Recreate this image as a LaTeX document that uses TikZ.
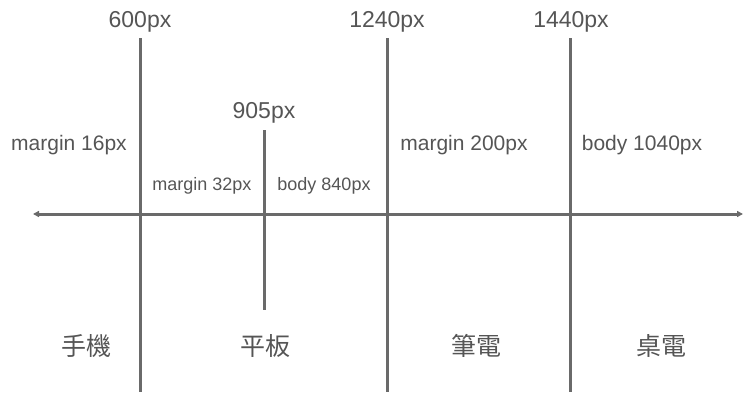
\documentclass[tikz,border=0pt]{standalone}
\usepackage{fontspec}
\setmainfont{Liberation Sans}
\newfontfamily\cjk{Noto Sans CJK TC}
\usepackage{xcolor}
\usetikzlibrary{positioning,arrows.meta}
\definecolor{axisgray}{HTML}{6A6A6A}
\definecolor{textgray}{HTML}{555555}

\begin{document}
\begin{tikzpicture}[
  x=1pt,y=-1pt,
  text=textgray,
  bar/.style={draw=axisgray,line width=3pt},
  bp/.style={font=\fontsize{23}{25}\selectfont,inner sep=0pt,anchor=base},
  note/.style={font=\fontsize{21}{23}\selectfont,inner sep=0pt,anchor=base},
  small/.style={font=\fontsize{18}{20}\selectfont,inner sep=0pt,anchor=base},
  dev/.style={font=\cjk\fontsize{25}{27}\selectfont,inner sep=0pt},
  >={Triangle[width=6pt,length=6pt]}]
\useasboundingbox (0,0) rectangle (743,407);
% breakpoints
\coordinate (m-top) at (140,38);  \coordinate (m-bot) at (140,392);
\coordinate (t-top) at (264,130); \coordinate (t-bot) at (264,310);
\coordinate (n-top) at (387,38);  \coordinate (n-bot) at (387,392);
\coordinate (d-top) at (570,38);  \coordinate (d-bot) at (570,392);
\coordinate (ax-l) at (33,214);   \coordinate (ax-r) at (743,214);
\draw[bar,<->,draw=axisgray,fill=axisgray] (ax-l)--(ax-r);
\draw[bar] (m-top)--(m-bot); \draw[bar] (t-top)--(t-bot);
\draw[bar] (n-top)--(n-bot); \draw[bar] (d-top)--(d-bot);
% widths
\node[bp] (w600) at (140,27) {600px};
\node[bp] (w905) at (264,118) {905px};
\node[bp] (w1240) at (387,27) {1240px};
\node[bp] (w1440) at (571,27) {1440px};
% spacing
\node[note] (mg16) at (69,150) {margin 16px};
\node[small] (mg32) at (202,190) {margin 32px};
\node[small] (bd840) at (324,190) {body 840px};
\node[note] (mg200) at (464,150) {margin 200px};
\node[note] (bd1040) at (642,150) {body 1040px};
% devices
\node[dev] (phone) at (86,346) {手機};
\node[dev] (tablet) at (265,346) {平板};
\node[dev] (laptop) at (476,346) {筆電};
\node[dev] (desk) at (661,346) {桌電};
\end{tikzpicture}
\end{document}
